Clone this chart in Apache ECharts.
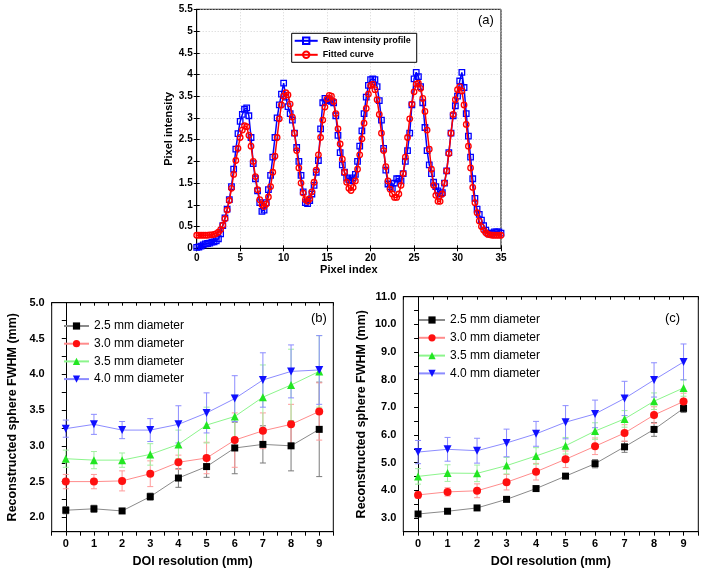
<!DOCTYPE html>
<html>
<head>
<meta charset="utf-8">
<script src="https://cdn.jsdelivr.net/npm/echarts@6/dist/echarts.min.js"></script>
<style>
html,body{margin:0;padding:0;background:#fff;}
#c{width:704px;height:576px;}
</style>
</head>
<body>
<div id="c"></div>
<script>
// ---------- Panel (a) data ----------
const pixelIndex = [0,0.25,0.5,0.75,1,1.25,1.5,1.75,2,2.25,2.5,2.75,3,3.25,3.5,3.75,4,4.25,4.5,4.75,5,5.25,5.5,5.75,6,6.25,6.5,6.75,7,7.25,7.5,7.75,8,8.25,8.5,8.75,9,9.25,9.5,9.75,10,10.25,10.5,10.75,11,11.25,11.5,11.75,12,12.25,12.5,12.75,13,13.25,13.5,13.75,14,14.25,14.5,14.75,15,15.25,15.5,15.75,16,16.25,16.5,16.75,17,17.25,17.5,17.75,18,18.25,18.5,18.75,19,19.25,19.5,19.75,20,20.25,20.5,20.75,21,21.25,21.5,21.75,22,22.25,22.5,22.75,23,23.25,23.5,23.75,24,24.25,24.5,24.75,25,25.25,25.5,25.75,26,26.25,26.5,26.75,27,27.25,27.5,27.75,28,28.25,28.5,28.75,29,29.25,29.5,29.75,30,30.25,30.5,30.75,31,31.25,31.5,31.75,32,32.25,32.5,32.75,33,33.25,33.5,33.75,34,34.25,34.5,34.75,35];
const rawProfile = [0.02,0.03,0.05,0.08,0.10,0.11,0.12,0.14,0.15,
 0.17,0.22,0.33,0.52,0.70,0.90,1.12,1.42,
 1.82,2.28,2.64,2.92,3.08,3.20,3.23,3.05,
 2.55,1.95,1.60,1.32,1.05,0.85,0.88,1.05,
 1.35,1.68,2.10,2.55,3.00,3.30,3.55,3.80,
 3.48,3.26,3.10,2.95,2.65,2.32,2.00,1.68,
 1.30,1.05,1.03,1.10,1.25,1.45,1.75,2.02,
 2.75,3.35,3.45,3.40,3.42,3.38,3.35,3.05,
 2.60,2.20,1.92,1.75,1.62,1.58,1.55,1.62,
 1.70,2.00,2.35,2.70,3.10,3.48,3.75,3.88,
 3.90,3.88,3.72,3.40,2.95,2.30,1.80,1.48,
 1.42,1.38,1.50,1.60,1.60,1.55,1.72,2.00,
 2.25,2.65,3.30,3.90,4.05,3.95,3.72,3.35,
 2.78,2.25,1.92,1.72,1.52,1.42,1.32,1.25,
 1.28,1.50,1.78,2.20,2.65,3.05,3.28,3.50,
 3.85,4.05,3.70,3.10,2.58,2.10,1.60,1.15,
 0.90,0.78,0.65,0.52,0.42,0.35,0.33,0.35,
 0.38,0.38,0.38,0.35];
const fittedCurve = [0.30,0.30,0.30,0.30,0.30,0.30,0.31,0.31,0.32,
 0.34,0.37,0.43,0.53,0.68,0.88,1.10,1.38,
 1.70,2.02,2.30,2.55,2.72,2.82,2.80,2.60,
 2.35,2.00,1.65,1.35,1.12,1.00,0.96,1.02,
 1.18,1.42,1.75,2.12,2.55,2.98,3.30,3.50,
 3.58,3.53,3.32,3.02,2.65,2.25,1.85,1.50,
 1.27,1.12,1.08,1.14,1.30,1.52,1.80,2.15,
 2.55,2.95,3.25,3.44,3.52,3.50,3.38,3.10,
 2.75,2.40,2.05,1.75,1.52,1.38,1.33,1.40,
 1.55,1.82,2.15,2.52,2.88,3.22,3.55,3.75,
 3.78,3.65,3.42,3.08,2.65,2.25,1.88,1.55,
 1.36,1.25,1.17,1.17,1.25,1.45,1.72,2.10,
 2.55,2.98,3.32,3.60,3.78,3.80,3.68,3.45,
 3.15,2.72,2.28,1.82,1.45,1.22,1.08,1.08,
 1.25,1.50,1.78,2.18,2.65,3.08,3.42,3.65,
 3.72,3.62,3.30,2.85,2.35,1.85,1.40,1.05,
 0.82,0.63,0.50,0.42,0.36,0.32,0.31,0.30,
 0.30,0.30,0.30,0.30];

// ---------- Panels (b) and (c) data ----------
const doiRes = [0,1,2,3,4,5,6,7,8,9];
const diameterNames = ['2.5 mm diameter','3.0 mm diameter','3.5 mm diameter','4.0 mm diameter'];
const b25 = [2.10,2.12,2.09,2.29,2.55,2.71,2.97,3.02,3.00,3.23];
const b30 = [2.50,2.50,2.51,2.61,2.77,2.83,3.08,3.21,3.30,3.48];
const b35 = [2.82,2.80,2.80,2.88,3.02,3.29,3.41,3.68,3.85,4.04];
const b40 = [3.24,3.30,3.22,3.22,3.30,3.46,3.66,3.92,4.04,4.06];
const b25err = [0.05,0.05,0.03,0.05,0.13,0.15,0.36,0.26,0.35,0.66];
const b30err = [0.10,0.10,0.14,0.18,0.10,0.22,0.38,0.25,0.28,0.40];
const b35err = [0.12,0.12,0.10,0.15,0.20,0.25,0.30,0.45,0.50,0.50];
const b40err = [0.12,0.14,0.12,0.16,0.26,0.28,0.32,0.38,0.37,0.48];
const c25 = [3.14,3.24,3.36,3.67,4.06,4.51,4.96,5.57,6.20,6.96];
const c30 = [3.83,3.94,3.98,4.29,4.67,5.12,5.59,6.07,6.72,7.21];
const c35 = [4.50,4.62,4.61,4.89,5.24,5.61,6.14,6.58,7.22,7.70];
const c40 = [5.38,5.48,5.43,5.71,6.04,6.46,6.76,7.32,7.99,8.64];
const c25err = [0.05,0.05,0.05,0.06,0.06,0.08,0.15,0.20,0.25,0.15];
const c30err = [0.12,0.15,0.25,0.28,0.30,0.30,0.30,0.30,0.30,0.30];
const c35err = [0.28,0.30,0.30,0.30,0.30,0.30,0.30,0.30,0.30,0.30];
const c40err = [0.42,0.43,0.45,0.50,0.45,0.60,0.50,0.62,0.62,0.65];
const bYLabels = [2.0,2.5,3.0,3.5,4.0,4.5,5.0];
const bYTicks = [2.0,2.25,2.5,2.75,3.0,3.25,3.5,3.75,4.0,4.25,4.5,4.75,5.0];

const FONT = 'Liberation Sans, Arial, sans-serif';
const chart = echarts.init(document.getElementById('c'));

function pairs(xs, ys){ return xs.map((x,i)=>[x, ys[i]]); }
function triples(xs, ys, es){ return xs.map((x,i)=>[x, ys[i], es[i]]); }

function errRender(color){
  return function(params, api){
    const x = api.value(0), y = api.value(1), e = api.value(2);
    const p1 = api.coord([x, y+e]), p2 = api.coord([x, y-e]);
    const w = 3;
    const style = {stroke: color, lineWidth: 1};
    return {type:'group', children:[
      {type:'line', shape:{x1:p1[0],y1:p1[1],x2:p2[0],y2:p2[1]}, style:style},
      {type:'line', shape:{x1:p1[0]-w,y1:p1[1],x2:p1[0]+w,y2:p1[1]}, style:style},
      {type:'line', shape:{x1:p2[0]-w,y1:p2[1],x2:p2[0]+w,y2:p2[1]}, style:style}
    ]};
  };
}

const styles = [
  {mark:'#000000', line:'#8a8a8a', err:'#7a7a7a', symbol:'rect', rot:0, size:7},
  {mark:'#ff1010', line:'#ff8c8c', err:'#ff9a9a', symbol:'circle', rot:0, size:8},
  {mark:'#22e622', line:'#8cf58c', err:'#a0f0a0', symbol:'triangle', rot:0, size:8},
  {mark:'#1010ff', line:'#8c8cff', err:'#8c8cff', symbol:'triangle', rot:180, size:8}
];

function panelSeries(vals, errs, axisIdx){
  const out = [];
  vals.forEach((v,k)=>{
    out.push({type:'custom', xAxisIndex:axisIdx, yAxisIndex:axisIdx, z:1,
      renderItem: errRender(styles[k].err), encode:{x:0,y:1},
      data: triples(doiRes, v, errs[k]), silent:true});
  });
  vals.forEach((v,k)=>{
    const s = styles[k];
    out.push({type:'line', name: diameterNames[k], xAxisIndex:axisIdx, yAxisIndex:axisIdx, z:3,
      data: pairs(doiRes, v), symbol:s.symbol, symbolRotate:s.rot, symbolSize:s.size,
      lineStyle:{color:s.line, width:1}, itemStyle:{color:s.mark}});
  });
  return out;
}

function labelFmt(v){ return Number.isInteger(Math.round(v*1000)/1000) ? String(Math.round(v)) : ''; }

const axisLineBlack = {show:true, lineStyle:{color:'#000', width:1}};
const tickLbl = {color:'#000', fontFamily:FONT, fontWeight:'bold', fontSize:10};

const xAxes = [
  // panel a
  {gridIndex:0, type:'value', min:0, max:35, interval:5, position:'bottom',
   axisLine:axisLineBlack, axisTick:{inside:true, length:3, lineStyle:{color:'#000'}},
   axisLabel:Object.assign({margin:5}, tickLbl),
   splitLine:{show:true, lineStyle:{color:'#c8c8c8', type:[1,2], width:0.8}},
   name:'Pixel index', nameLocation:'middle', nameGap:14,
   nameTextStyle:{color:'#000', fontFamily:FONT, fontWeight:'bold', fontSize:11}},
  {gridIndex:0, type:'value', min:0, max:35, interval:5, position:'top',
   axisLine:axisLineBlack, axisTick:{inside:true, length:3, lineStyle:{color:'#000'}},
   axisLabel:{show:false}, splitLine:{show:false}},
  // panel b
  {gridIndex:1, type:'value', min:-0.5, max:9.5, interval:0.5, position:'bottom',
   axisLine:axisLineBlack, axisTick:{inside:false, length:4, lineStyle:{color:'#000'}},
   axisLabel:Object.assign({margin:7, formatter:labelFmt}, tickLbl, {fontSize:11}),
   splitLine:{show:false},
   name:'DOI resolution (mm)', nameLocation:'middle', nameGap:23,
   nameTextStyle:{color:'#000', fontFamily:FONT, fontWeight:'bold', fontSize:12.5}},
  {gridIndex:1, type:'value', min:-0.5, max:9.5, interval:0.5, position:'top',
   axisLine:axisLineBlack, axisTick:{inside:true, length:3, lineStyle:{color:'#000'}},
   axisLabel:{show:false}, splitLine:{show:false}},
  // panel c
  {gridIndex:2, type:'value', min:-0.5, max:9.5, interval:0.5, position:'bottom',
   axisLine:axisLineBlack, axisTick:{inside:false, length:4, lineStyle:{color:'#000'}},
   axisLabel:Object.assign({margin:7, formatter:labelFmt}, tickLbl, {fontSize:11}),
   splitLine:{show:false},
   name:'DOI resolution (mm)', nameLocation:'middle', nameGap:23,
   nameTextStyle:{color:'#000', fontFamily:FONT, fontWeight:'bold', fontSize:12.5}},
  {gridIndex:2, type:'value', min:-0.5, max:9.5, interval:0.5, position:'top',
   axisLine:axisLineBlack, axisTick:{inside:true, length:3, lineStyle:{color:'#000'}},
   axisLabel:{show:false}, splitLine:{show:false}}
];

const yAxes = [
  {gridIndex:0, type:'value', min:0, max:5.5, interval:0.5, position:'left',
   axisLine:axisLineBlack, axisTick:{inside:true, length:3, lineStyle:{color:'#000'}},
   axisLabel:Object.assign({margin:4}, tickLbl),
   splitLine:{show:true, lineStyle:{color:'#c8c8c8', type:[1,2], width:0.8}},
   name:'Pixel intensity', nameLocation:'middle', nameGap:22,
   nameTextStyle:{color:'#000', fontFamily:FONT, fontWeight:'bold', fontSize:11}},
  {gridIndex:0, type:'value', min:0, max:5.5, interval:0.5, position:'right',
   axisLine:axisLineBlack, axisTick:{inside:true, length:3, lineStyle:{color:'#000'}},
   axisLabel:{show:false}, splitLine:{show:false}},
  {gridIndex:1, type:'value', min:1.8, max:5.0, position:'left',
   axisLine:axisLineBlack,
   axisTick:{inside:false, length:4, lineStyle:{color:'#000'}, customValues:bYTicks},
   axisLabel:Object.assign({margin:7, customValues:bYLabels, formatter:v=>Number(v).toFixed(1)}, tickLbl, {fontSize:11}),
   splitLine:{show:false},
   name:'Reconstructed sphere FWHM (mm)', nameLocation:'middle', nameGap:33,
   nameTextStyle:{color:'#000', fontFamily:FONT, fontWeight:'bold', fontSize:12.5}},
  {gridIndex:1, type:'value', min:1.8, max:5.0, position:'right',
   axisLine:axisLineBlack,
   axisTick:{inside:true, length:3, lineStyle:{color:'#000'}, customValues:bYTicks},
   axisLabel:{show:false}, splitLine:{show:false}},
  {gridIndex:2, type:'value', min:2.5, max:11, interval:0.5, position:'left',
   axisLine:axisLineBlack, axisTick:{inside:false, length:4, lineStyle:{color:'#000'}},
   axisLabel:Object.assign({margin:7, formatter:v=>(Math.abs(v-Math.round(v))<1e-6 ? Number(v).toFixed(1) : '')}, tickLbl, {fontSize:11}),
   splitLine:{show:false},
   name:'Reconstructed sphere FWHM (mm)', nameLocation:'middle', nameGap:35,
   nameTextStyle:{color:'#000', fontFamily:FONT, fontWeight:'bold', fontSize:12.5}},
  {gridIndex:2, type:'value', min:2.5, max:11, interval:0.5, position:'right',
   axisLine:axisLineBlack, axisTick:{inside:true, length:3, lineStyle:{color:'#000'}},
   axisLabel:{show:false}, splitLine:{show:false}}
];

const series = [
  {type:'line', name:'Raw intensity profile', xAxisIndex:0, yAxisIndex:0, z:3,
   data: pairs(pixelIndex, rawProfile), symbol:'rect', symbolSize:5.5,
   lineStyle:{color:'#0000ff', width:1.5},
   itemStyle:{color:'rgba(255,255,255,0)', borderColor:'#0000ff', borderWidth:1.3}},
  {type:'line', name:'Fitted curve', xAxisIndex:0, yAxisIndex:0, z:4,
   data: pairs(pixelIndex, fittedCurve), symbol:'circle', symbolSize:5.5,
   lineStyle:{color:'#ff0000', width:1.5},
   itemStyle:{color:'rgba(255,255,255,0)', borderColor:'#ff0000', borderWidth:1.3}}
].concat(
  panelSeries([b25,b30,b35,b40],[b25err,b30err,b35err,b40err],2),
  panelSeries([c25,c30,c35,c40],[c25err,c30err,c35err,c40err],4)
);

const option = {
  animation:false,
  backgroundColor:'#fff',
  grid:[
    {left:196.7, top:9.3, width:304.3, height:239, show:true, borderColor:'#000', borderWidth:1, backgroundColor:'transparent'},
    {left:51.7, top:302.7, width:281.6, height:229, show:true, borderColor:'#000', borderWidth:1, backgroundColor:'transparent'},
    {left:403.3, top:296.7, width:295, height:235, show:true, borderColor:'#000', borderWidth:1, backgroundColor:'transparent'}
  ],
  xAxis:xAxes,
  yAxis:yAxes,
  legend:[
    {data:['Raw intensity profile','Fitted curve'], orient:'vertical', left:291.7, top:33.3,
     itemWidth:23, itemHeight:8, itemGap:5, padding:[3,6,3,2],
     backgroundColor:'#fff', borderColor:'#000', borderWidth:1,
     textStyle:{color:'#000', fontFamily:FONT, fontWeight:'bold', fontSize:9}},
    {data:diameterNames, orient:'vertical', left:63, top:320,
     itemWidth:25, itemHeight:9, itemGap:5.7, padding:0,
     textStyle:{color:'#000', fontFamily:FONT, fontSize:12}},
    {data:diameterNames, orient:'vertical', left:418, top:314,
     itemWidth:26, itemHeight:9, itemGap:5.8, padding:0,
     textStyle:{color:'#000', fontFamily:FONT, fontSize:12}}
  ],
  graphic:[
    {type:'text', left:478, top:14, style:{text:'(a)', fill:'#000', font:'13px ' + FONT}},
    {type:'text', left:311, top:312, style:{text:'(b)', fill:'#000', font:'13px ' + FONT}},
    {type:'text', left:665, top:312, style:{text:'(c)', fill:'#000', font:'13px ' + FONT}}
  ],
  series:series
};
chart.setOption(option);
</script>
</body>
</html>
